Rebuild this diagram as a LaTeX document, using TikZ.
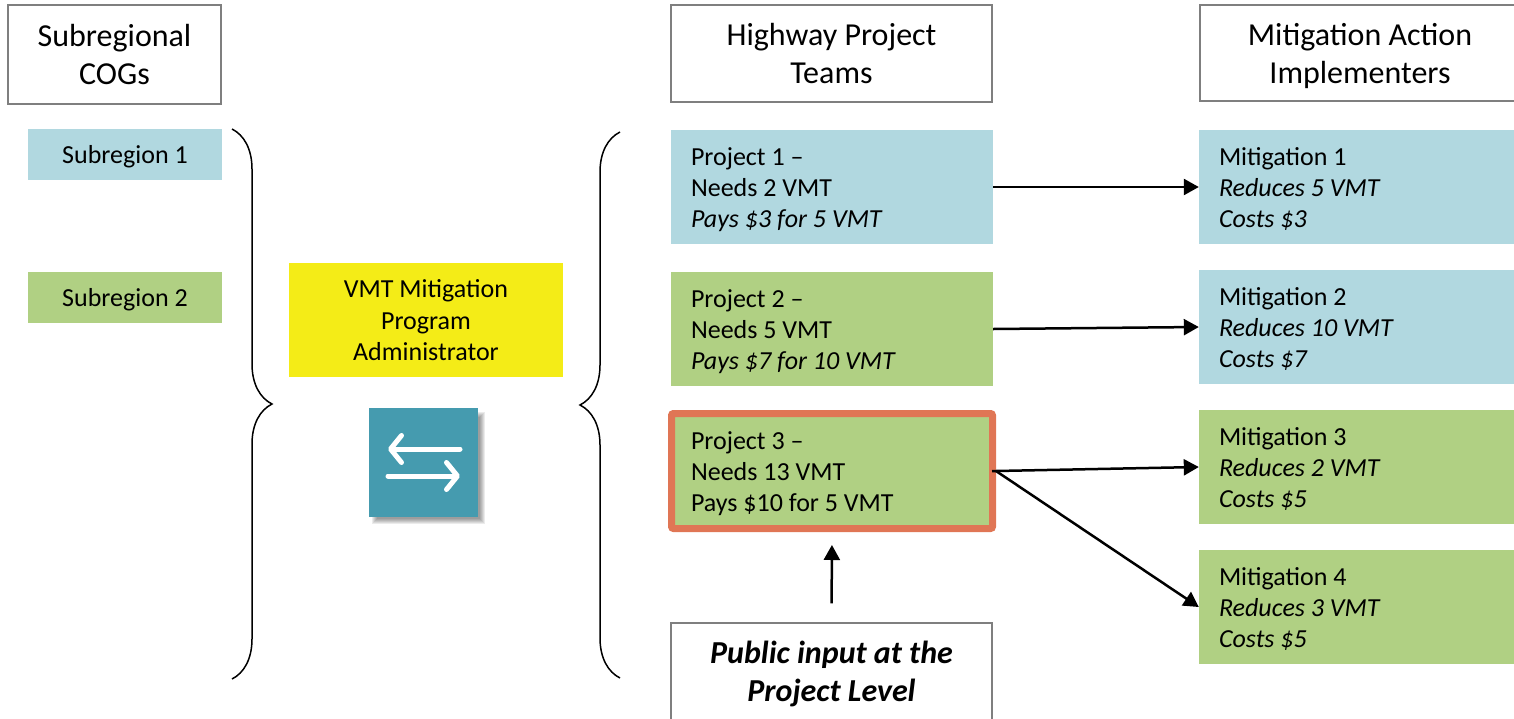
\documentclass[tikz,border=0pt]{standalone}
\usepackage{fontspec}
\setmainfont{Carlito}
\usepackage{xcolor}
\usepackage{tikz}
\usetikzlibrary{arrows.meta,decorations.pathreplacing}
\definecolor{paleblue}{HTML}{B1D8E0}
\definecolor{palegreen}{HTML}{B0D083}
\definecolor{adminyellow}{HTML}{F4EC17}
\definecolor{swapteal}{HTML}{459BAF}
\definecolor{flagorange}{HTML}{E07655}
\definecolor{hdrgray}{HTML}{7F7F7F}
\tikzset{
    hdrbox/.style={draw=hdrgray,line width=1.5pt,fill=white,align=center,inner sep=0pt,
        font=\fontsize{32}{38}\selectfont},
    subbox/.style={minimum width=194pt,minimum height=51pt,inner sep=0pt,text height=23pt,text depth=5.5pt,
        font=\fontsize{26}{31}\selectfont},
    itemtext/.style={inner ysep=0pt,text width=282pt,align=flush left,
        execute at begin node=\rule{0pt}{23pt},execute at end node=\rule[-5pt]{0pt}{5pt},
        font=\fontsize{26}{31}\selectfont},
    itembox/.style={itemtext,minimum height=114pt,inner xsep=20pt},
    link/.style={line width=2.5pt,-{Triangle[length=15pt,width=16pt]}},
    bracket/.style={line width=1.5pt,decorate,decoration={brace,amplitude=40pt,aspect=0.5}},
    swaparrow/.style={white,line width=5pt,line cap=round,
        -{Straight Barb[length=11pt,width=27pt,line cap=round,line join=round]}}
}

\begin{document}
\begin{tikzpicture}[x=1pt,y=-1pt]
    \clip (0,0) rectangle (1514,718);
    % column headings
    \node[hdrbox,minimum width=213pt,minimum height=99pt] (hdrsub) at (114.5,54.5) {Subregional\\COGs};
    \node[hdrbox,minimum width=321pt,minimum height=97pt] (hdrproj) at (831.5,53.5) {Highway Project\\Teams};
    \node[hdrbox,minimum width=320pt,minimum height=96pt] (hdrmit) at (1360,53) {\rule{0pt}{29pt}Mitigation Action\\Implementers};
    % subregions
    \node[subbox,fill=paleblue] (sub1) at (125,154.5) {Subregion 1};
    \node[subbox,fill=palegreen] (sub2) at (125,297.5) {Subregion 2};
    % braces
    \coordinate (ltop) at (232,129);
    \coordinate (lbot) at (232,679);
    \coordinate (rtop) at (620,132);
    \coordinate (rbot) at (620,678);
    \draw[bracket] (ltop) -- (lbot);
    \draw[bracket] (rbot) -- (rtop);
    % administrator
    \node[fill=adminyellow,minimum width=274pt,minimum height=114pt,align=center,inner sep=0pt,
        font=\fontsize{26}{31.5}\selectfont] (admin) at (426,320) {\rule{0pt}{19pt}VMT Mitigation\\Program\\Administrator};
    \foreach \k in {0,...,5}
        \fill[black,opacity=0.08] (372+\k,412+\k) rectangle (485-\k,524-\k);
    \node[fill=swapteal,minimum width=109pt,minimum height=109pt,inner sep=0pt] (swap) at (423.5,462.5) {};
    \coordinate (swapa) at (460,449);
    \coordinate (swapb) at (388,449);
    \coordinate (swapc) at (388,476);
    \coordinate (swapd) at (460,476);
    \draw[swaparrow] (swapa) -- (swapb);
    \draw[swaparrow] (swapc) -- (swapd);
    % projects
    \node[itembox,fill=paleblue] (proj1) at (832,187) {Project 1 --\\Needs 2 VMT\\\textit{Pays \$3 for 5 VMT}};
    \node[itembox,fill=palegreen] (proj2) at (832,329) {Project 2 --\\Needs 5 VMT\\\textit{Pays \$7 for 10 VMT}};
    \node[itemtext,draw=flagorange,line width=7pt,rounded corners=2pt,fill=palegreen,minimum height=115pt,
        inner xsep=19.5pt] (proj3) at (832,471) {Project 3 --\\Needs 13 VMT\\Pays \$10 for 5 VMT};
    % mitigation actions
    \node[itembox,fill=paleblue] (mit1) at (1360,187) {Mitigation 1\\\textit{Reduces 5 VMT}\\\textit{Costs \$3}};
    \node[itembox,fill=paleblue] (mit2) at (1360,327) {Mitigation 2\\\textit{Reduces 10 VMT}\\\textit{Costs \$7}};
    \node[itembox,fill=palegreen] (mit3) at (1360,467) {Mitigation 3\\\textit{Reduces 2 VMT}\\\textit{Costs \$5}};
    \node[itembox,fill=palegreen] (mit4) at (1360,607) {Mitigation 4\\\textit{Reduces 3 VMT}\\\textit{Costs \$5}};
    % public input
    \node[hdrbox,minimum width=321pt,minimum height=99pt,font=\fontsize{32}{38}\selectfont\bfseries\itshape] (public) at (831.5,672.5) {\rule{0pt}{26pt}Public input at the\\Project Level};
    % connectors
    \draw[link] (proj1.east) -- (mit1.west);
    \draw[link] (proj2.east) -- (mit2.west);
    \draw[link,shorten <=-4pt] (proj3.center) ++(164,0) coordinate (proj3out) -- (mit3.west);
    \draw[link] (proj3out) -- (mit4.west);
    \draw[link,shorten <=19pt,shorten >=13pt] (public.north) -- (proj3.south);
\end{tikzpicture}
\end{document}
